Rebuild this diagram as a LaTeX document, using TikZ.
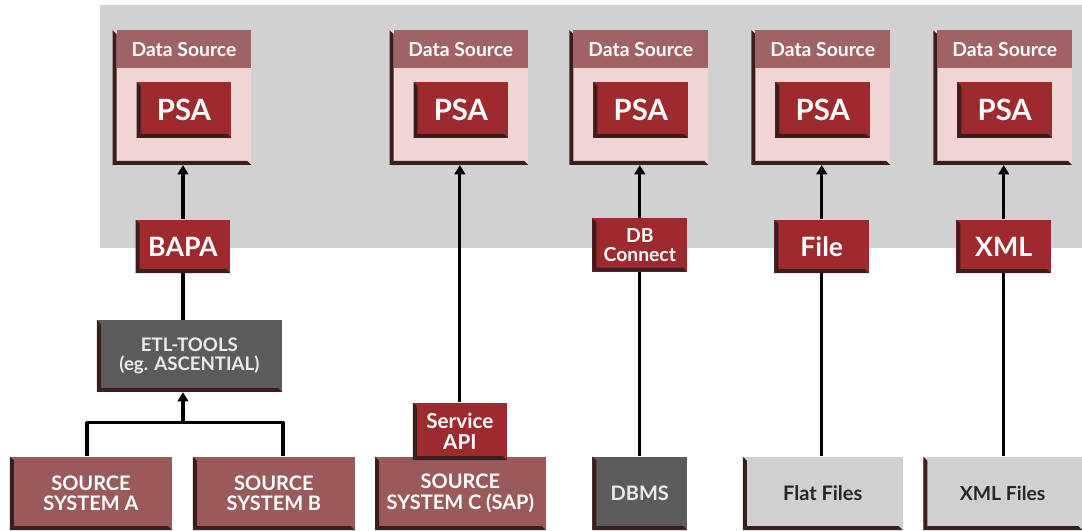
\documentclass[tikz,border=0pt]{standalone}
\usepackage{fontspec}
\setmainfont{Lato}
\usepackage{xcolor}
\usetikzlibrary{arrows.meta}

\definecolor{panelgray}{RGB}{209,209,209}
\definecolor{dspink}{RGB}{242,214,214}
\definecolor{dshead}{RGB}{160,98,98}
\definecolor{psared}{RGB}{158,42,46}
\definecolor{srcred}{RGB}{154,90,90}
\definecolor{tooldark}{RGB}{92,92,92}
\definecolor{filelight}{RGB}{208,208,208}
\definecolor{beveldark}{RGB}{58,30,30}

\begin{document}
\begin{tikzpicture}[x=0.75pt,y=-0.75pt,line cap=round,line join=round]
    % styles
    \tikzstyle{bevel}=[path picture={
        \fill[beveldark] (path picture bounding box.south west) -- (path picture bounding box.north west)
           -- ([shift={(3pt,-3pt)}]path picture bounding box.north west)
           -- ([shift={(3pt,3pt)}]path picture bounding box.south west) -- cycle;
        \fill[beveldark] (path picture bounding box.south west) -- (path picture bounding box.south east)
           -- ([shift={(-3pt,3pt)}]path picture bounding box.south east)
           -- ([shift={(3pt,3pt)}]path picture bounding box.south west) -- cycle;}]
    \tikzstyle{dsbox}=[bevel,fill=dspink,minimum width=104pt,minimum height=101pt,inner sep=0pt]
    \tikzstyle{dshead}=[fill=dshead,anchor=north east,minimum width=101pt,minimum height=28.5pt,inner sep=0pt,text=white,font=\fontsize{14.5}{14.5}\selectfont\bfseries]
    \tikzstyle{psa}=[bevel,fill=psared,text=white,minimum width=71pt,minimum height=42pt,inner sep=0pt,font=\fontsize{22}{22}\selectfont\bfseries]
    \tikzstyle{adapter}=[psa,minimum height=40pt,font=\fontsize{20}{20}\selectfont\bfseries]
    \tikzstyle{small}=[font=\fontsize{14.5}{14.5}\selectfont\bfseries,align=center]
    \tikzstyle{srcred}=[bevel,fill=srcred,text=white,minimum height=55pt,inner sep=0pt,align=center,font=\fontsize{15}{15.5}\selectfont\bfseries]
    \tikzstyle{srcdark}=[srcred,fill=tooldark,text=black!8]
    \tikzstyle{srclight}=[srcred,fill=filelight,text=black!85]
    \tikzstyle{link}=[line width=2.4pt,black,line cap=butt]
    \tikzstyle{feed}=[link,-{Triangle[length=7pt,width=8pt]}]

    % ----------------------------------------------------
    % staging area (grey panel)
    % ----------------------------------------------------
    \fill[panelgray] (100,5) rectangle (1082,248);

    % data sources with their PSA
    \node[dsbox] (ds1) at (182,97.5) {};
    \node[dshead] (hd1) at (ds1.north east) {Data Source};
    \node[psa] (psa1) at (184,110) {PSA};

    \node[dsbox] (ds2) at (459,97.5) {};
    \node[dshead] (hd2) at (ds2.north east) {Data Source};
    \node[psa] (psa2) at (461,110) {PSA};

    \node[dsbox] (ds3) at (639,97.5) {};
    \node[dshead] (hd3) at (ds3.north east) {Data Source};
    \node[psa] (psa3) at (641,110) {PSA};

    \node[dsbox] (ds4) at (821,97.5) {};
    \node[dshead] (hd4) at (ds4.north east) {Data Source};
    \node[psa] (psa4) at (823,110) {PSA};

    \node[dsbox] (ds5) at (1003,97.5) {};
    \node[dshead] (hd5) at (ds5.north east) {Data Source};
    \node[psa] (psa5) at (1005,110) {PSA};

    % interfaces
    \node[adapter] (bapa) at (183,246.5) {BAPA};
    \node[adapter,small] (dbc) at (640,245) {DB\\Connect};
    \node[adapter] (file) at (822,246.5) {File};
    \node[adapter] (xml) at (1004,246.5) {XML};

    % ----------------------------------------------------
    % source side
    % ----------------------------------------------------
    \node[srcdark,minimum width=139pt,minimum height=54pt,font=\fontsize{14}{14.5}\selectfont\bfseries] (etl) at (189.5,356) {ETL-TOOLS\\(eg. ASCENTIAL)};

    \node[srcred,minimum width=121.5pt] (srcA) at (91,493.5) {SOURCE\\SYSTEM A};
    \node[srcred,minimum width=121.5pt] (srcB) at (274,493.5) {SOURCE\\SYSTEM B};
    \node[srcred,minimum width=128pt] (srcC) at (460.5,493.5) {SOURCE\\SYSTEM C (SAP)};
    \node[psa,small,minimum width=70.5pt,minimum height=43pt,font=\fontsize{15.5}{15.5}\selectfont\bfseries] (sapi) at (460,431.5) {Service\\API};
    \node[srcdark,minimum width=71pt] (dbms) at (640,493.5) {DBMS};
    \node[srclight,minimum width=120pt] (flat) at (823,493.5) {Flat Files};
    \node[srclight,minimum width=119pt,font=\fontsize{14.5}{15}\selectfont\bfseries] (xmlf) at (1003,493.5) {XML Files};

    % ----------------------------------------------------
    % connectors
    % ----------------------------------------------------
    \coordinate (join) at (183,423);
    \draw[link] (srcA.north -| 87,0) |- (join) -| (srcB.north -| 283,0);
    \draw[feed] (join) -- (join |- etl.south);
    \draw[link] (bapa.south) -- (bapa.south |- etl.north);
    \draw[feed] (bapa.north) -- (ds1.south -| bapa.north);

    \draw[feed] (sapi.north) -- (ds2.south -| sapi.north);

    \draw[link] (dbms.north -| dbc.south) -- (dbc.south);
    \draw[feed] (dbc.north) -- (ds3.south -| dbc.north);

    \draw[link] (flat.north -| file.south) -- (file.south);
    \draw[feed] (file.north) -- (ds4.south -| file.north);

    \draw[link] (xmlf.north -| xml.south) -- (xml.south);
    \draw[feed] (xml.north) -- (ds5.south -| xml.north);

    \useasboundingbox (0,0) rectangle (1082,531);
\end{tikzpicture}
\end{document}
